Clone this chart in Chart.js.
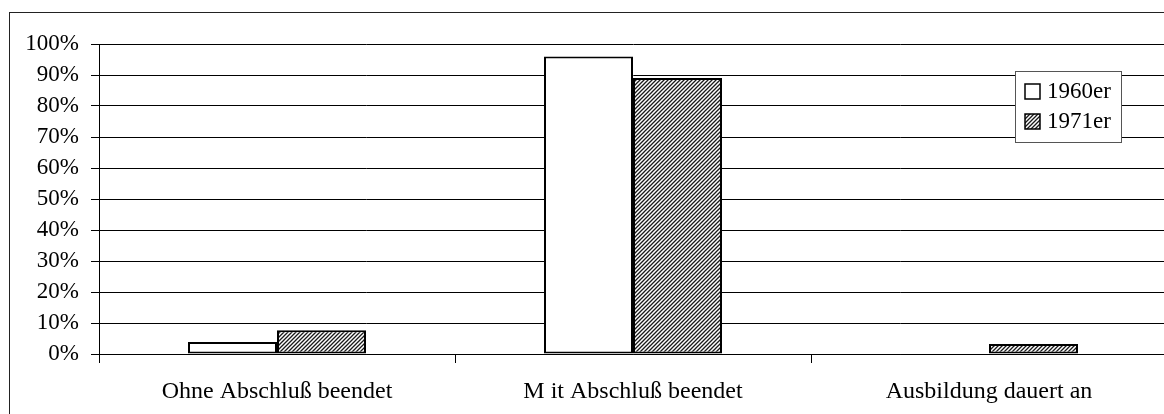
<!DOCTYPE html>
<html>
<head>
<meta charset="utf-8">
<script src="https://cdn.jsdelivr.net/npm/chart.js@4/dist/chart.umd.min.js"></script>
<style>
  html, body { margin: 0; padding: 0; background: #fff; overflow: hidden; }
  #wrap { position: absolute; left: 0; top: 0; width: 1180px; height: 430px; }
</style>
</head>
<body>
<div id="wrap"><canvas id="c" width="1180" height="430"></canvas></div>
<script>
// Abschlussquote nach Jahrgang (Anteile in Prozent)
const categories = ['Ohne Abschluß beendet', 'M it Abschluß beendet', 'Ausbildung dauert an'];
const seriesNames = ['1960er', '1971er'];
const values1960 = [3.9, 96, 0];
const values1971 = [7.7, 89, 3.2];
const yTickStep = 10;
const yMax = 100;

const FONT = '"Liberation Serif", "Times New Roman", serif';

// Diagonal hatching used for the second series
function makeHatch(size, lw) {
  const c = document.createElement('canvas');
  c.width = size; c.height = size;
  const g = c.getContext('2d');
  g.fillStyle = '#fff';
  g.fillRect(0, 0, size, size);
  g.strokeStyle = '#1a1a1a';
  g.lineWidth = lw;
  g.beginPath();
  g.moveTo(0, size); g.lineTo(size, 0);
  g.moveTo(-size / 2, size / 2); g.lineTo(size / 2, -size / 2);
  g.moveTo(size / 2, size * 1.5); g.lineTo(size * 1.5, size / 2);
  g.stroke();
  return c;
}

const canvas = document.getElementById('c');
const ctx = canvas.getContext('2d');
const hatch = ctx.createPattern(makeHatch(4, 1.3), 'repeat');

// Outer frame around the whole chart
const framePlugin = {
  id: 'frame',
  afterDraw(chart) {
    const g = chart.ctx;
    g.save();
    g.strokeStyle = '#222';
    g.lineWidth = 1;
    g.strokeRect(9.5, 12.5, 1162, 412);
    g.restore();
  }
};

// Boxed legend placed inside the plot on the right
const boxLegendPlugin = {
  id: 'boxLegend',
  afterDraw(chart) {
    const g = chart.ctx;
    const x = 1015, y = 71, w = 106, h = 71;
    g.save();
    g.fillStyle = '#fff';
    g.fillRect(x, y, w, h);
    g.strokeStyle = '#555';
    g.lineWidth = 1;
    g.strokeRect(x + 0.5, y + 0.5, w, h);
    const rows = [91, 121];
    chart.data.datasets.forEach((ds, i) => {
      const cy = rows[i];
      g.fillStyle = ds.backgroundColor;
      g.fillRect(1025, cy - 7, 15, 15);
      g.strokeStyle = '#000';
      g.lineWidth = 1.5;
      g.strokeRect(1025, cy - 7, 15, 15);
      g.fillStyle = '#000';
      g.font = '23px ' + FONT;
      g.textBaseline = 'middle';
      g.textAlign = 'left';
      g.fillText(ds.label, 1047, cy + 1);
    });
    g.restore();
  }
};

new Chart(ctx, {
  type: 'bar',
  data: {
    labels: categories,
    datasets: [
      {
        label: seriesNames[0],
        data: values1960,
        backgroundColor: '#ffffff',
        borderColor: '#000',
        borderWidth: 2,
        borderSkipped: false
      },
      {
        label: seriesNames[1],
        data: values1971,
        backgroundColor: hatch,
        borderColor: '#000',
        borderWidth: 2,
        borderSkipped: false
      }
    ]
  },
  options: {
    responsive: false,
    animation: false,
    devicePixelRatio: 1,
    layout: { padding: { left: 0, top: 44, right: 13, bottom: 0 } },
    datasets: { bar: { categoryPercentage: 0.5, barPercentage: 1.0 } },
    plugins: {
      legend: { display: false },
      tooltip: { enabled: false }
    },
    scales: {
      x: {
        offset: true,
        grid: {
          offset: true,
          drawOnChartArea: false,
          drawTicks: true,
          tickLength: 9,
          color: '#000',
          lineWidth: 1
        },
        border: { display: true, color: '#000', width: 1 },
        ticks: {
          color: '#000',
          font: { family: FONT, size: 24 },
          padding: 14,
          maxRotation: 0,
          autoSkip: false
        },
        afterFit(scale) { scale.height = 76; }
      },
      y: {
        min: 0,
        max: yMax,
        grid: {
          color: '#000',
          lineWidth: 1,
          drawTicks: true,
          tickLength: 8
        },
        border: { display: true, color: '#000', width: 1 },
        ticks: {
          stepSize: yTickStep,
          color: '#000',
          font: { family: FONT, size: 23 },
          padding: 12,
          callback: (v) => v + '%'
        },
        afterFit(scale) { scale.width = 99; }
      }
    }
  },
  plugins: [framePlugin, boxLegendPlugin]
});
</script>
</body>
</html>
